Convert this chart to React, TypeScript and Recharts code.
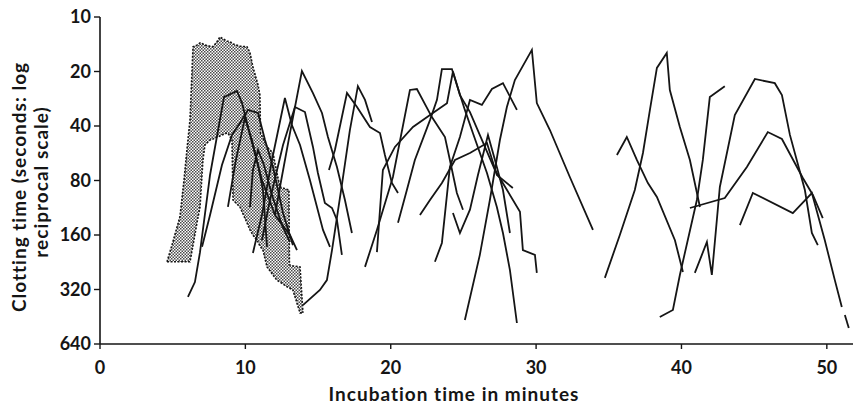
import { ComposedChart, Line, Area, XAxis, YAxis } from "recharts";

const FONT = "Lato, 'DejaVu Sans', sans-serif";
const INK = "#151515";

const xTicks = [0, 10, 20, 30, 40, 50];
const yTicks = [10, 20, 40, 80, 160, 320, 640];

// stippled band: incubation minute, fast edge and slow edge (seconds)
const shadeMinutes = [4.61, 4.95, 5.5, 5.78, 5.98, 6.19, 6.4, 6.67, 6.88, 7.08, 7.22, 7.57, 7.77, 8.05, 8.25, 8.73, 8.8, 9.08, 9.15, 9.63, 10.11, 10.32, 10.52, 10.87, 11.0, 11.04, 11.21, 11.49, 11.9, 12.17, 12.38, 13.0, 13.03, 13.27, 13.76, 13.96];
const shadeFast = [225, 182, 127, 79.5, 54.3, 37.1, 14.6, 14.3, 13.9, 14.1, 14.3, 14.5, 14.6, 13.7, 12.9, 13.6, 13.6, 13.9, 14.1, 14.5, 14.6, 15.8, 18.9, 23.7, 27.0, 43.7, 46.6, 52.2, 56.4, 72.7, 86.9, 90.3, 234, 237, 240, 431];
const shadeSlow = [225, 225, 225, 225, 225, 225, 182, 137, 112, 61.6, 50.9, 47.8, 47.2, 46.0, 45.4, 43.7, 43.7, 47.8, 102.5, 112, 137, 150, 160, 175, 184, 186, 194, 240, 266, 284, 291, 314, 314, 322, 431, 431];

// individual runs: [minute, clotting time in seconds]
const run01 = [[6.05, 352], [6.53, 291], [6.88, 199], [7.57, 74.6], [8.53, 27.7], [9.42, 25.6], [9.77, 29.9], [10.32, 44.8], [11.14, 79.5], [12.04, 124], [13.07, 160], [13.55, 194]];
const run02 = [[7.02, 186], [7.57, 124], [8.39, 65.7], [9.08, 44.8], [9.63, 38.5], [10.18, 32.6], [10.87, 33.9], [11.35, 47.8], [11.9, 67.4], [12.59, 121], [13.27, 182]];
const run03 = [[8.8, 112], [9.35, 61.6], [9.97, 36.1], [10.45, 47.8], [10.87, 65.7], [11.21, 90.3], [11.49, 186]];
const run04 = [[10.32, 112], [10.52, 70], [10.87, 54.3], [11.28, 65.7], [11.83, 96.2], [12.52, 141], [13.07, 175]];
const run05 = [[10.52, 201], [11.14, 124], [11.83, 61.6], [12.72, 28], [13.2, 39.5], [13.76, 50.9], [14.44, 79.5], [15.34, 150], [15.82, 186]];
const run06 = [[13.96, 390], [15.13, 322], [15.61, 284], [15.96, 194], [16.64, 84.7], [17.19, 42.1], [17.74, 24.1], [18.23, 28.7], [18.71, 38]];
const run07 = [[12.04, 124], [12.38, 86.9], [13.07, 43.7], [13.89, 19.9], [14.65, 26.3], [15.27, 33.9], [15.68, 46], [16.3, 67.4], [16.85, 102.5], [17.33, 156]];
const run08 = [[11.14, 171], [11.69, 102.5], [12.59, 50.9], [13.41, 31.4], [14.1, 33.5], [14.65, 52.2], [14.99, 72.7], [15.47, 106.5], [15.96, 113.5], [16.3, 132], [16.64, 206]];
const run09 = [[15.75, 70], [16.16, 54.3], [16.64, 35.7], [16.99, 26.3], [17.68, 31.4], [18.57, 40.5], [19.26, 43.7], [19.6, 57.8], [20.08, 82.6], [20.5, 93.8]];
const run10 = [[18.23, 240], [19.05, 150], [20.15, 76.5], [21.32, 25.3], [21.8, 25], [22.83, 35.7], [23.73, 46], [24.07, 61.6], [24.55, 93.8], [24.97, 116]];
const run11 = [[20.5, 137], [21.11, 90.3], [21.66, 61.6], [22.7, 37.1], [23.18, 28.7], [23.52, 19.4], [24.21, 19.4], [24.55, 23.7], [25.1, 32.6], [25.65, 43.7], [26.62, 72.7], [27.3, 112], [27.72, 156], [28.2, 250], [28.68, 490]];
const run12 = [[19.05, 199], [19.46, 70], [20.29, 52.2], [21.53, 40.5], [22.9, 33.9], [23.87, 29.9], [24.28, 20], [24.76, 27], [25.45, 33.5], [27.17, 70], [28.89, 119], [29.09, 194], [29.92, 206], [30.05, 259]];
const run13 = [[25.1, 472], [26.13, 206], [26.82, 102.5], [27.51, 47.8], [27.99, 31.4], [28.54, 22.3], [29.71, 15.2], [30.05, 29.9], [30.95, 42.1], [32.32, 76.5], [33.91, 150]];
const run14 = [[23.04, 225], [23.52, 177], [24.07, 67.4], [24.76, 46], [25.45, 28.7], [26.27, 30.6], [26.96, 25], [27.72, 23.2], [28.68, 32.6]];
const run15 = [[22.01, 124], [22.7, 102.5], [23.52, 82.6], [24.42, 61.6], [25.45, 56.4], [26.62, 49.7], [27.3, 74.6], [28.4, 88]];
const run16 = [[24.28, 121], [24.76, 156], [25.45, 116], [26.0, 74.6], [26.69, 44.8], [27.17, 61.6], [27.72, 90.3], [28.2, 156]];
const run17 = [[34.73, 276], [35.76, 160], [36.79, 90.3], [37.35, 56.4], [37.83, 32.6], [38.31, 19.1], [38.99, 15.8], [39.2, 25.3], [39.89, 40.5], [40.58, 61.6], [41.27, 112]];
const run18 = [[35.56, 57.8], [36.24, 46], [36.93, 61.6], [37.69, 82.6], [38.31, 98.7], [39.55, 171], [40.1, 256]];
const run19 = [[38.51, 454], [39.41, 415], [39.89, 266], [41.06, 102.5], [41.47, 61.6], [41.95, 27.7], [42.98, 24.1]];
const run20 = [[40.58, 113.5], [42.98, 100], [44.5, 67.4], [45.94, 43.2], [46.91, 47.2], [48.35, 77.5], [49.04, 96.2], [49.72, 129]];
const run21 = [[40.92, 259], [41.75, 175], [42.09, 266], [42.64, 86.9], [43.67, 34.8], [45.05, 22], [46.42, 23.2], [46.91, 27], [47.46, 44.8], [48.49, 90.3], [48.97, 156], [49.38, 182]];
const run22 = [[44.02, 141], [44.91, 93.8], [47.66, 121], [48.97, 93.8], [49.86, 171], [50.55, 284], [51.03, 400]];
const run23 = [[51.24, 443], [51.51, 522]];

const runs = [run01, run02, run03, run04, run05, run06, run07, run08, run09, run10, run11, run12, run13, run14, run15, run16, run17, run18, run19, run20, run21, run22, run23];

const shade = shadeMinutes.map((m, i) => ({ m, r: [shadeFast[i], shadeSlow[i]] }));
const lines = runs.map((run) => run.map(([m, s]) => ({ m, s })));

const tickStyle = { fill: INK, fontSize: 18, fontWeight: 700, fontFamily: FONT };

function YTitle() {
  return (
    <g fontFamily={FONT} fontWeight={700} fontSize={19} letterSpacing={1} fill={INK}>
      <text x={26} y={187} textAnchor="middle" transform="rotate(-90 26 187)">
        Clotting time (seconds: log
      </text>
      <text x={48} y={182} textAnchor="middle" transform="rotate(-90 48 182)">
        reciprocal scale)
      </text>
    </g>
  );
}

function XTitle() {
  return (
    <text x={454} y={401} textAnchor="middle" fontFamily={FONT} fontWeight={700} fontSize={19} letterSpacing={1} fill={INK}>
      Incubation time in minutes
    </text>
  );
}

export default function App() {
  return (
    <div style={{ position: "absolute", left: 0, top: 0, background: "#fff" }}>
      <ComposedChart width={853} height={405} data={shade} margin={{ top: 17, right: 0, left: 0, bottom: 0 }}>
        <defs>
          <pattern id="stipple" width="3" height="3" patternUnits="userSpaceOnUse">
            <rect width="3" height="3" fill="#fff" />
            <rect width="1.5" height="1.5" fill="#4a4a4a" />
            <rect x="1.5" y="1.5" width="1.5" height="1.5" fill="#4a4a4a" />
          </pattern>
        </defs>
        <XAxis
          dataKey="m"
          type="number"
          domain={[0, 51.8]}
          ticks={xTicks}
          allowDataOverflow
          height={61}
          tickSize={5}
          tickMargin={12}
          tick={tickStyle}
          axisLine={{ stroke: INK, strokeWidth: 1.6 }}
          tickLine={{ stroke: INK, strokeWidth: 1.4 }}
          label={{ content: () => <XTitle /> }}
        />
        <YAxis
          type="number"
          scale="log"
          domain={[10, 640]}
          ticks={yTicks}
          reversed
          allowDataOverflow
          width={100}
          tickSize={6}
          tickMargin={3}
          tick={tickStyle}
          axisLine={{ stroke: INK, strokeWidth: 1.6 }}
          tickLine={{ stroke: INK, strokeWidth: 1.4 }}
          label={{ content: () => <YTitle /> }}
        />
        <Area
          dataKey="r"
          type="linear"
          fill="url(#stipple)"
          fillOpacity={1}
          stroke={INK}
          strokeWidth={1.6}
          strokeDasharray="2 1.5"
          isAnimationActive={false}
          dot={false}
          activeDot={false}
        />
        {lines.map((d, i) => (
          <Line
            key={i}
            data={d}
            dataKey="s"
            type="linear"
            stroke={INK}
            strokeWidth={1.8}
            dot={false}
            activeDot={false}
            isAnimationActive={false}
          />
        ))}
      </ComposedChart>
    </div>
  );
}
